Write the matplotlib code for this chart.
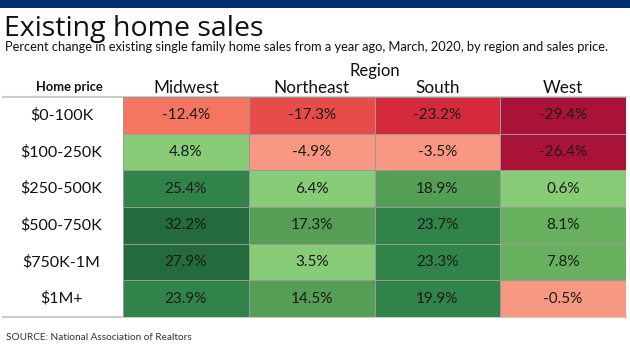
import matplotlib.pyplot as plt
from matplotlib.colors import ListedColormap, BoundaryNorm
import numpy as np

plt.rcParams['font.family'] = ['Lato', 'DejaVu Sans']

regions = ["Midwest", "Northeast", "South", "West"]
prices = ["$0-100K", "$100-250K", "$250-500K", "$500-750K", "$750K-1M", "$1M+"]
changes = np.array([
    [-12.4, -17.3, -23.2, -29.4],
    [4.8, -4.9, -3.5, -26.4],
    [25.4, 6.4, 18.9, 0.6],
    [32.2, 17.3, 23.7, 8.1],
    [27.9, 3.5, 23.3, 7.8],
    [23.9, 14.5, 19.9, -0.5],
])

bins = [-40, -25, -20, -15, -10, 0, 7, 10, 19, 26, 40]
colors = ["#ab1238", "#d42a3c", "#e84c48", "#f47560", "#f99882",
          "#88cc77", "#66b05e", "#559e55", "#30844a", "#236b3c"]
cmap = ListedColormap(colors)
norm = BoundaryNorm(bins, cmap.N)

W, H = 630, 354
fig = plt.figure(figsize=(W / 100, H / 100), dpi=100)

# full-figure overlay in pixel coords for titles and rules
bg = fig.add_axes([0, 0, 1, 1])
bg.set_xlim(0, W)
bg.set_ylim(H, 0)
bg.axis('off')
bg.add_patch(plt.Rectangle((0, 0), W, 8, color="#002d6b", lw=0))
bg.text(4, 36, "Existing home sales", fontsize=20.5, family=['Open Sans', 'DejaVu Sans'],
        color="#111111", va='baseline')
bg.text(5, 51, "Percent change in existing single family home sales from a year ago, March, 2020, by region and sales price.",
        fontsize=9.3, color="#111111", va='baseline')
bg.text(375, 76, "Region", fontsize=12, color="#111111", ha='center', va='baseline')
bg.text(69, 91, "Home price", fontsize=9.3, fontweight='bold', color="#111111", ha='center', va='baseline')

# heatmap
left, right, top, bottom = 123, 626, 97, 317
ax = fig.add_axes([left / W, 1 - bottom / H, (right - left) / W, (bottom - top) / H])
ax.pcolormesh(changes, cmap=cmap, norm=norm, edgecolors="#999999", linewidth=0.7)
ax.set_xlim(0, len(regions))
ax.set_ylim(len(prices), 0)
ax.axis('off')
for j, name in enumerate(regions):
    ax.text(j + 0.5, -0.11, name, fontsize=12.3, color="#111111", ha='center', va='baseline', clip_on=False)
for i, p in enumerate(prices):
    ax.text(-0.49, i + 0.5, p, fontsize=11.5, color="#111111", ha='center', va='center', clip_on=False)
    for j in range(len(regions)):
        ax.text(j + 0.5, i + 0.5, f"{changes[i, j]:.1f}%", fontsize=11, color="#1a1a1a",
                ha='center', va='center')

bg.plot([3, 626], [97, 97], color="#cccccc", lw=1.5)
bg.plot([3, 626], [317, 317], color="#cccccc", lw=1.5)
bg.text(6, 340, "SOURCE: National Association of Realtors", fontsize=7.2, color="#333333", va='baseline')

fig.savefig("out.png", dpi=100)
